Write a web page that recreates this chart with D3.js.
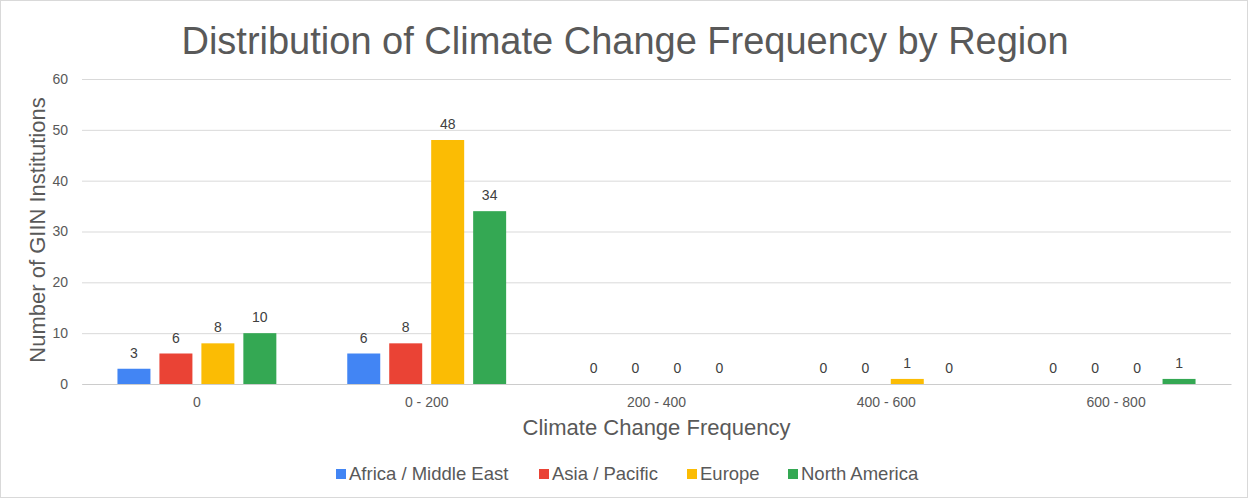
<!DOCTYPE html>
<html>
<head>
<meta charset="utf-8">
<script src="https://cdn.jsdelivr.net/npm/d3@7"></script>
<style>
  body { margin: 0; background: #fff; }
  text { font-family: "Liberation Sans", Arial, sans-serif; }
</style>
</head>
<body>
<div id="chart"></div>
<script>
// Data
var categories      =   [ "0", "0 - 200", "200 - 400", "400 - 600", "600 - 800" ];
var series          =   [ "Africa / Middle East", "Asia / Pacific", "Europe", "North America" ];
var africa          =   [ 3, 6, 0, 0, 0 ];
var asia            =   [ 6, 8, 0, 0, 0 ];
var europe          =   [ 8, 48, 0, 1, 0 ];
var north_america   =   [ 10, 34, 0, 0, 1 ];
var y_ticks         =   [ 0, 10, 20, 30, 40, 50, 60 ];
var colors          =   [ "#4285f4", "#ea4335", "#fbbc04", "#34a853" ];

var values          =   [ africa, asia, europe, north_america ];

var chart_width     =   1249;
var chart_height    =   499;
var plot            =   { left: 82, right: 1231, top: 79, bottom: 384 };
var text_color      =   "#595959";

// Scales
var x0 = d3.scaleBand()
    .domain( categories )
    .range( [ plot.left, plot.right ] )
    .padding( 0 );

var x1 = d3.scaleBand()
    .domain( series )
    .range( [ 0, x0.bandwidth() ] )
    .paddingInner( 0.214 )
    .paddingOuter( 0.845 );

var y = d3.scaleLinear()
    .domain( [ 0, 60 ] )
    .range( [ plot.bottom, plot.top ] );

var color = d3.scaleOrdinal( series, colors );

// SVG
var svg = d3.select( "#chart" )
    .append( "svg" )
    .attr( "width", chart_width )
    .attr( "height", chart_height );

svg.append( "rect" )
    .attr( "x", 0.5 ).attr( "y", 0.5 )
    .attr( "width", chart_width - 2 ).attr( "height", chart_height - 2 )
    .attr( "fill", "#fff" )
    .attr( "stroke", "#d9d9d9" );

// Title
svg.append( "text" )
    .attr( "x", 625 )
    .attr( "y", 54 )
    .attr( "text-anchor", "middle" )
    .attr( "font-size", 38 )
    .attr( "fill", text_color )
    .text( "Distribution of Climate Change Frequency by Region" );

// Grid + y axis
var y_axis = svg.append( "g" )
    .attr( "transform", "translate(" + plot.left + ",0)" )
    .call( d3.axisLeft( y ).tickValues( y_ticks ).tickSize( -( plot.right - plot.left ) ).tickPadding( 14 ) );

y_axis.select( ".domain" ).remove();
y_axis.selectAll( "line" ).attr( "stroke", "#d9d9d9" );
y_axis.selectAll( "text" )
    .attr( "font-size", 14 )
    .attr( "fill", text_color );

// X axis
var x_axis = svg.append( "g" )
    .attr( "transform", "translate(0," + plot.bottom + ")" )
    .call( d3.axisBottom( x0 ).tickSize( 0 ).tickPadding( 13 ) );

x_axis.select( ".domain" ).attr( "stroke", "#cccccc" );
x_axis.selectAll( "text" )
    .attr( "font-size", 14 )
    .attr( "fill", text_color );

// Bars
var rows = categories.map( function( c, i ){
    return series.map( function( s, j ){
        return { category: c, series: s, value: values[j][i] };
    });
});

var groups = svg.selectAll( "g.group" )
    .data( rows )
    .enter()
    .append( "g" )
    .attr( "class", "group" )
    .attr( "transform", function( d, i ){
        return "translate(" + x0( categories[i] ) + ",0)";
    });

groups.selectAll( "rect" )
    .data( function( d ){ return d; } )
    .enter()
    .append( "rect" )
    .attr( "x", function( d ){ return x1( d.series ); } )
    .attr( "y", function( d ){ return y( d.value ); } )
    .attr( "width", x1.bandwidth() )
    .attr( "height", function( d ){ return plot.bottom - y( d.value ); } )
    .attr( "fill", function( d ){ return color( d.series ); } );

groups.selectAll( "text.label" )
    .data( function( d ){ return d; } )
    .enter()
    .append( "text" )
    .attr( "class", "label" )
    .attr( "x", function( d ){ return x1( d.series ) + x1.bandwidth() / 2; } )
    .attr( "y", function( d ){ return y( d.value ) - 11; } )
    .attr( "text-anchor", "middle" )
    .attr( "font-size", 14 )
    .attr( "fill", "#404040" )
    .text( function( d ){ return d.value; } );

// Axis titles
svg.append( "text" )
    .attr( "x", ( plot.left + plot.right ) / 2 )
    .attr( "y", 435 )
    .attr( "text-anchor", "middle" )
    .attr( "font-size", 22 )
    .attr( "fill", text_color )
    .text( "Climate Change Frequency" );

svg.append( "text" )
    .attr( "transform", "translate(45,230) rotate(-90)" )
    .attr( "text-anchor", "middle" )
    .attr( "font-size", 22 )
    .attr( "fill", text_color )
    .text( "Number of GIIN Institutions" );

// Legend
var legend_x = [ 336, 539, 687, 788 ];
var legend = svg.selectAll( "g.legend" )
    .data( series )
    .enter()
    .append( "g" )
    .attr( "class", "legend" )
    .attr( "transform", function( d, i ){ return "translate(" + legend_x[i] + ",469)"; } );

legend.append( "rect" )
    .attr( "width", 10 ).attr( "height", 10 )
    .attr( "fill", function( d ){ return color( d ); } );

legend.append( "text" )
    .attr( "x", 13 )
    .attr( "y", 11 )
    .attr( "font-size", 18.5 )
    .attr( "fill", text_color )
    .text( function( d ){ return d; } );
</script>
</body>
</html>
